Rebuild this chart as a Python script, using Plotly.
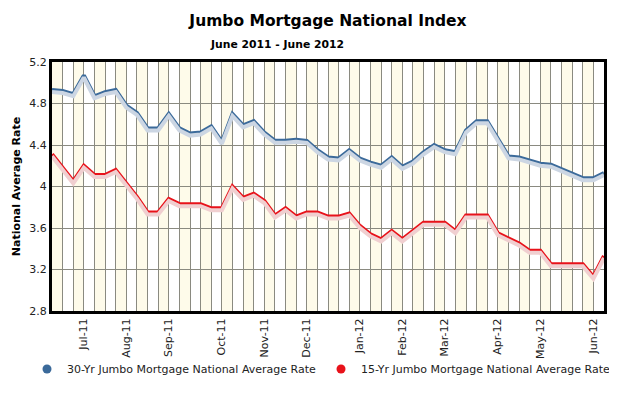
import pandas as pd
import plotly.graph_objects as go

# ---- data ----
start_date = "2011-06-16"
n_weeks = 53
weeks = pd.date_range(start_date, periods=n_weeks, freq="7D")

rate_30yr = [4.93, 4.92, 4.89, 5.07, 4.87, 4.91, 4.93, 4.78, 4.71, 4.56,
             4.56, 4.70, 4.56, 4.51, 4.52, 4.58, 4.43, 4.70, 4.59, 4.63,
             4.52, 4.44, 4.44, 4.45, 4.44, 4.35, 4.28, 4.27, 4.35, 4.27,
             4.23, 4.20, 4.28, 4.19, 4.24, 4.33, 4.40, 4.35, 4.33, 4.54,
             4.63, 4.63, 4.46, 4.29, 4.28, 4.25, 4.22, 4.21, 4.17, 4.12,
             4.08, 4.08, 4.13]
rate_15yr = [4.31, 4.18, 4.05, 4.20, 4.11, 4.11, 4.16, 4.03, 3.90, 3.75,
             3.75, 3.88, 3.83, 3.83, 3.83, 3.79, 3.79, 4.00, 3.89, 3.93,
             3.86, 3.72, 3.79, 3.71, 3.75, 3.75, 3.71, 3.71, 3.74, 3.62,
             3.54, 3.49, 3.57, 3.49, 3.57, 3.65, 3.65, 3.65, 3.57, 3.72,
             3.72, 3.72, 3.55, 3.50, 3.45, 3.38, 3.38, 3.25, 3.25, 3.25,
             3.25, 3.13, 3.33]
series_names = ["30-Yr Jumbo Mortgage National Average Rate",
                "15-Yr Jumbo Mortgage National Average Rate"]
month_labels = ["Jul-11", "Aug-11", "Sep-11", "Oct-11", "Nov-11", "Dec-11",
                "Jan-12", "Feb-12", "Mar-12", "Apr-12", "May-12", "Jun-12"]
y_ticks = [2.8, 3.2, 3.6, 4.0, 4.4, 4.8, 5.2]

# first week of each month -> tick position
tick_dates = []
seen = {(weeks[0].year, weeks[0].month)}
for d in weeks:
    key = (d.year, d.month)
    if key not in seen:
        seen.add(key)
        tick_dates.append(d)

# ---- styling ----
BLUE = "#3B6A9A"
BLUE_SH = "#CCD6E3"
RED = "#E8121A"
RED_SH = "#F0CFD0"
CREAM = "#FEFBEA"
GRID = "#8A8A80"
FONT = "DejaVu Sans"

y_lo, y_hi = y_ticks[0], y_ticks[-1]
shift = (y_hi - y_lo) * 2.0 / 249.0

fig = go.Figure()

# shadows (on a slightly shifted overlaying axis)
for vals, col in [(rate_30yr, BLUE_SH), (rate_15yr, RED_SH)]:
    fig.add_trace(go.Scatter(x=weeks, y=vals, mode="lines", yaxis="y2",
                             line=dict(color=col, width=4), showlegend=False,
                             hoverinfo="skip"))
for vals, col in [(rate_30yr, BLUE), (rate_15yr, RED)]:
    fig.add_trace(go.Scatter(x=weeks, y=vals, mode="lines",
                             line=dict(color=col, width=4), showlegend=False))
# legend entries
for name, col in zip(series_names, [BLUE, RED]):
    fig.add_trace(go.Scatter(x=[None], y=[None], mode="markers", name=name,
                             marker=dict(color=col, size=9, symbol="circle",
                                         line=dict(width=0))))

# alternating cream bands
shapes = []
for i in range(0, n_weeks - 1, 2):
    shapes.append(dict(type="rect", xref="x", yref="y domain",
                       x0=weeks[i], x1=weeks[i + 1], y0=0, y1=1,
                       fillcolor=CREAM, line=dict(width=0), layer="below"))

fig.update_layout(
    width=617, height=393,
    margin=dict(l=44, r=21, t=54, b=90, autoexpand=False),
    paper_bgcolor="white", plot_bgcolor="white",
    font=dict(family=FONT, size=11, color="#111111"),
    shapes=shapes,
    title=dict(text="<b>Jumbo Mortgage National Index</b>",
               font=dict(family=FONT, size=15.5, color="#000000"),
               x=0.5186, xanchor="center", xref="container",
               y=0.968, yanchor="middle", yref="container"),
    annotations=[dict(text="<b>June 2011 - June 2012</b>", xref="paper", yref="paper",
                      x=0.4076, y=1.072, xanchor="center", yanchor="middle",
                      showarrow=False, font=dict(family=FONT, size=10.8, color="#000000"))],
    xaxis=dict(range=[weeks[0], weeks[-1]], type="date", automargin=False,
               tickvals=tick_dates, ticktext=month_labels, tickangle=-90,
               showgrid=True, gridcolor=GRID, gridwidth=1,
               minor=dict(tick0=weeks[0], dtick=7 * 24 * 3600 * 1000,
                          showgrid=True, gridcolor=GRID, gridwidth=1),
               showline=True, linecolor="black", linewidth=3, mirror=True,
               ticks="", zeroline=False,
               tickfont=dict(family=FONT, size=11, color="#222222")),
    yaxis=dict(range=[y_lo, y_hi], tickvals=y_ticks, automargin=False,
               ticktext=[f"{v:g}" for v in y_ticks],
               showgrid=True, gridcolor=GRID, gridwidth=1,
               showline=True, linecolor="black", linewidth=3, mirror=True,
               ticks="", zeroline=False,
               tickfont=dict(family=FONT, size=11, color="#222222"),
               title=dict(text="<b>National Average Rate</b>", standoff=7,
                          font=dict(family=FONT, size=11, color="#000000"))),
    yaxis2=dict(range=[y_lo + shift, y_hi + shift], overlaying="y",
                visible=False, showgrid=False),
    legend=dict(orientation="h", xref="paper", x=-0.0453, xanchor="left",
                yref="paper", y=-0.233, yanchor="middle",
                font=dict(family=FONT, size=11, color="#222222"),
                bgcolor="rgba(0,0,0,0)", itemwidth=30),
    showlegend=True,
)

fig.write_html("out.html")
